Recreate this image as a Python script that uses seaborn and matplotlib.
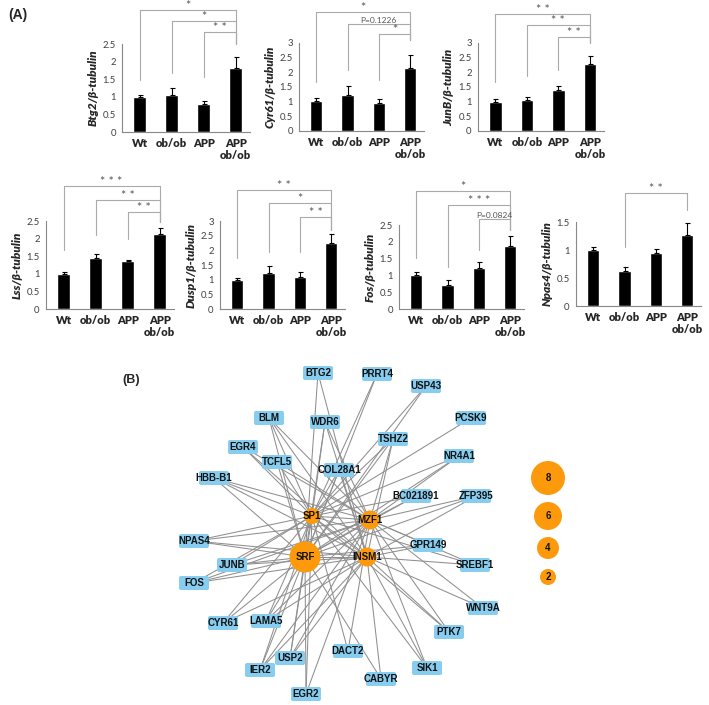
import matplotlib.pyplot as plt
import numpy as np
import pandas as pd
import seaborn as sns
from matplotlib.patches import Circle, FancyBboxPatch

sns.set_style('white')
plt.rcParams['font.family'] = ['Lato', 'DejaVu Sans']

groups = ['Wt', 'ob/ob', 'APP', 'APP\nob/ob']

# bar values (mean, +error) for each gene
btg2 = [1.0, 1.05, 0.80, 1.83]
btg2_err = [0.06, 0.20, 0.08, 0.30]
cyr61 = [1.03, 1.23, 0.97, 2.15]
cyr61_err = [0.10, 0.32, 0.12, 0.45]
junb = [1.0, 1.05, 1.40, 2.30]
junb_err = [0.08, 0.12, 0.15, 0.25]
lss = [1.0, 1.45, 1.35, 2.13]
lss_err = [0.04, 0.12, 0.05, 0.17]
dusp1 = [1.0, 1.23, 1.10, 2.25]
dusp1_err = [0.06, 0.25, 0.15, 0.30]
fos = [1.0, 0.70, 1.22, 1.87]
fos_err = [0.10, 0.15, 0.17, 0.30]
npas4 = [1.0, 0.62, 0.94, 1.27]
npas4_err = [0.06, 0.08, 0.07, 0.22]

# significance brackets: (from, to, height, left leg end, right leg end, label)
btg2_sig = [(0, 3, 3.47, 1.48, 2.5, '*'), (1, 3, 3.15, 1.68, 2.5, '*'), (2, 3, 2.84, 1.56, 2.5, '**')]
cyr61_sig = [(0, 3, 4.06, 1.67, 3.1, '*'), (1, 3, 3.64, 2.08, 3.1, 'P=0.1226'), (2, 3, 3.3, 1.74, 3.1, '*')]
junb_sig = [(0, 3, 3.99, 1.67, 3.0, '**'), (1, 3, 3.62, 1.88, 3.0, '**'), (2, 3, 3.2, 2.08, 3.0, '**')]
lss_sig = [(0, 3, 3.49, 1.68, 2.47, '***'), (1, 3, 3.1, 2.1, 2.47, '**'), (2, 3, 2.76, 2.0, 2.47, '**')]
dusp1_sig = [(0, 3, 4.06, 1.74, 2.7, '**'), (1, 3, 3.62, 1.95, 2.7, '*'), (2, 3, 3.14, 1.95, 2.7, '**')]
fos_sig = [(0, 3, 3.51, 1.52, 2.35, '*'), (1, 3, 3.1, 1.25, 2.35, '***'), (2, 3, 2.68, 1.76, 2.35, 'P=0.0824')]
npas4_sig = [(1, 3, 2.02, 1.05, 1.71, '**')]

# network: transcription factor hubs and target genes
hubs = ['SRF', 'SP1', 'MZF1', 'INSM1']
hub_x = [305, 312, 370, 367]
hub_y = [557, 516, 520, 557]
hub_size = [7, 2, 3, 3]

genes = ['BTG2', 'PRRT4', 'USP43', 'PCSK9', 'TSHZ2', 'NR4A1', 'WDR6', 'BLM', 'EGR4',
         'TCFL5', 'COL28A1', 'HBB-B1', 'BC021891', 'ZFP395', 'NPAS4', 'GPR149', 'SREBF1',
         'JUNB', 'FOS', 'WNT9A', 'CYR61', 'LAMA5', 'PTK7', 'DACT2', 'USP2', 'SIK1',
         'CABYR', 'IER2', 'EGR2']
gene_x = [318, 377, 426, 471, 393, 459, 325, 269, 243, 277, 339, 214, 416, 476, 194, 428, 475,
          232, 194, 483, 223, 266, 449, 348, 290, 427, 381, 260, 306]
gene_y = [373, 374, 386, 418, 439, 456, 422, 418, 447, 462, 470, 478, 496, 496, 541, 545, 565,
          565, 583, 608, 623, 621, 632, 651, 658, 668, 679, 670, 694]
gene_links = [
    ['SRF', 'INSM1'], ['SP1', 'SRF'], ['SP1', 'SRF'], ['SP1'],
    ['SP1', 'SRF', 'INSM1', 'MZF1'], ['SP1', 'SRF', 'MZF1'], ['SP1', 'SRF', 'MZF1', 'INSM1'],
    ['SP1', 'SRF', 'MZF1', 'INSM1'], ['SP1', 'MZF1', 'INSM1'], ['SP1', 'SRF', 'MZF1'],
    ['SP1', 'SRF', 'MZF1', 'INSM1'], ['SP1', 'SRF', 'MZF1', 'INSM1'], ['SP1', 'SRF', 'MZF1'],
    ['SRF', 'MZF1', 'INSM1'], ['SP1', 'MZF1', 'SRF', 'INSM1'], ['MZF1', 'INSM1', 'SRF'],
    ['MZF1', 'INSM1', 'SP1'], ['SP1', 'SRF', 'MZF1', 'INSM1'], ['SP1', 'SRF', 'MZF1', 'INSM1'],
    ['MZF1', 'INSM1'], ['SP1', 'SRF', 'INSM1'], ['SP1', 'SRF', 'MZF1', 'INSM1'],
    ['SP1', 'MZF1', 'INSM1'], ['SP1', 'MZF1'], ['SRF', 'MZF1', 'INSM1', 'SP1'],
    ['SP1', 'MZF1', 'INSM1'], ['SRF', 'INSM1'], ['SRF', 'SP1', 'MZF1', 'INSM1'],
    ['SRF', 'SP1', 'MZF1']]
hub_links = [('SP1', 'MZF1'), ('SRF', 'INSM1'), ('SP1', 'INSM1'), ('SRF', 'MZF1')]

legend_sizes = [8, 6, 4, 2]
legend_y = [478, 516, 548, 577]

W, H = 709, 705
fig = plt.figure(figsize=(W / 100, H / 100), dpi=100)


def panel(left, top, bottom, step, vals, errs, ymax, yticks, gene, sig):
    ax = fig.add_axes([left / W, 1 - bottom / H, 4 * step / W, (bottom - top) / H])
    df = pd.DataFrame({'group': groups, 'value': vals})
    sns.barplot(data=df, x='group', y='value', color='black', width=0.4,
                errorbar=None, ax=ax, saturation=1)
    ax.errorbar(range(4), vals, yerr=[np.zeros(4), errs], fmt='none', ecolor='black',
                elinewidth=0.8, capsize=1.8, capthick=0.8)
    ax.set_xlim(-0.55, 3.45)
    ax.set_ylim(0, ymax)
    ax.set_yticks(yticks)
    ax.set_yticklabels([('%g' % t) for t in yticks], fontsize=6.8, color='#404040')
    ax.tick_params(axis='y', length=2.5, width=0.7, color='#888888', pad=2)
    ax.tick_params(axis='x', length=0, pad=4)
    for t in ax.get_xticklabels():
        t.set_fontweight('heavy')
        t.set_fontsize(8)
    ax.set_xlabel('')
    ax.set_ylabel(gene + '/\u03b2-tubulin', fontsize=8.5, fontstyle='italic',
                  fontweight='heavy', labelpad=3)
    sns.despine(ax=ax)
    for s in ['left', 'bottom']:
        ax.spines[s].set_color('#888888')
        ax.spines[s].set_linewidth(0.8)
    for i, j, h, lb, rb, txt in sig:
        ax.plot([i, i, j, j], [lb, h, h, rb], color='#aaaaaa', lw=0.8, clip_on=False)
        small = txt.startswith('P')
        shown = txt if small else ' '.join(txt)
        ax.annotate(shown, ((i + j) / 2, h), xytext=(0, 0.2 if small else -1.5),
                    textcoords='offset points', ha='center', va='bottom',
                    fontsize=6 if small else 9, color='#555555', annotation_clip=False)
    return ax


panel(122, 44, 132, 32, btg2, btg2_err, 2.5, [0, 0.5, 1, 1.5, 2, 2.5], 'Btg2', btg2_sig)
panel(299, 43, 131, 31.3, cyr61, cyr61_err, 3, [0, 0.5, 1, 1.5, 2, 2.5, 3], 'Cyr61', cyr61_sig)
panel(478, 43, 131, 31.5, junb, junb_err, 3, [0, 0.5, 1, 1.5, 2, 2.5, 3], 'JunB', junb_sig)
panel(46, 221, 309, 32, lss, lss_err, 2.5, [0, 0.5, 1, 1.5, 2, 2.5], 'Lss', lss_sig)
panel(220, 221, 309, 31.3, dusp1, dusp1_err, 3, [0, 0.5, 1, 1.5, 2, 2.5, 3], 'Dusp1', dusp1_sig)
panel(399, 225, 309, 31.3, fos, fos_err, 2.5, [0, 0.5, 1, 1.5, 2, 2.5], 'Fos', fos_sig)
panel(576, 222, 306, 31.3, npas4, npas4_err, 1.5, [0, 0.5, 1, 1.5], 'Npas4', npas4_sig)

# network panel in pixel coordinates
net = fig.add_axes([0, 0, 1, 1], zorder=-1)
net.set_xlim(0, W)
net.set_ylim(H, 0)
net.axis('off')

hub_pos = {h: (x, y) for h, x, y in zip(hubs, hub_x, hub_y)}
edge_kw = dict(color='#8f8f8f', lw=0.75, zorder=1)
for g, x, y, links in zip(genes, gene_x, gene_y, gene_links):
    for h in links:
        hx, hy = hub_pos[h]
        net.plot([x, hx], [y, hy], **edge_kw)
for a, b in hub_links:
    net.plot([hub_pos[a][0], hub_pos[b][0]], [hub_pos[a][1], hub_pos[b][1]], **edge_kw)

node_font = dict(family=['Liberation Sans', 'DejaVu Sans'], fontweight='bold',
                 fontsize=7, color='#111111', ha='center', va='center', zorder=4)
box_w, box_h = 30, 14
for g, x, y in zip(genes, gene_x, gene_y):
    net.add_patch(FancyBboxPatch((x - box_w / 2, y - box_h / 2), box_w, box_h,
                                 boxstyle='round,pad=0,rounding_size=2',
                                 fc='#87cdf0', ec='none', zorder=3))
    net.text(x, y, g, **node_font)

orange = '#fd9a0c'
for h, x, y, s in zip(hubs, hub_x, hub_y, hub_size):
    net.add_patch(Circle((x, y), 5 + 1.5 * s, fc=orange, ec='none', zorder=3))
    net.text(x, y, h, **node_font)

for s, y in zip(legend_sizes, legend_y):
    net.add_patch(Circle((548, y), 5 + 1.5 * s, fc=orange, ec='none', zorder=3))
    net.text(548, y, str(s), **node_font)

fig.text(8 / W, 1 - 15 / H, '(A)', fontsize=10, fontweight='bold', va='center',
         family=['Liberation Sans', 'DejaVu Sans'])
fig.text(122 / W, 1 - 380 / H, '(B)', fontsize=9, fontweight='bold', va='center',
         family=['Liberation Sans', 'DejaVu Sans'])

fig.savefig('out.png', dpi=100)
